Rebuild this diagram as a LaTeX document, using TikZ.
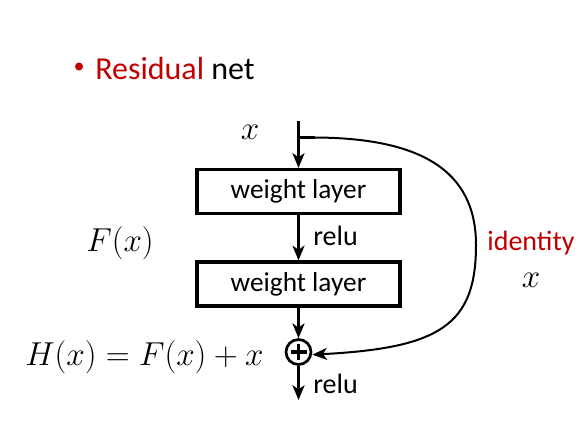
\documentclass[tikz,border=0pt]{standalone}
\usepackage{fontspec}
\setmainfont{Carlito}
\usetikzlibrary{arrows.meta}
\definecolor{resred}{RGB}{192,0,0}
\begin{document}
\begin{tikzpicture}[x=0.75pt,y=-0.75pt,
  layerbox/.style={draw,line width=2.4pt,minimum width=203*0.75pt,minimum height=44*0.75pt,inner sep=0pt,font=\fontsize{20.5}{22}\selectfont},
  flow/.style={line width=2.4pt,-{Stealth[length=11pt,width=9pt,inset=3pt]}},
  skip/.style={line width=1.5pt,-{Stealth[length=11pt,width=9pt,inset=3pt]}},
  lbl/.style={font=\fontsize{21}{24}\selectfont,inner sep=0pt,anchor=base west},
  mathlbl/.style={font=\fontsize{24.5}{28}\selectfont,inner sep=0pt}]
\useasboundingbox (0,0) rectangle (582,429);
% title
\node[circle,fill=resred,inner sep=0pt,minimum size=8*0.75pt] (bul) at (79,66.5) {};
\node[anchor=base west,inner sep=0pt,font=\fontsize{24}{28}\selectfont] (title) at (95,79) {\textcolor{resred}{Residual} net};
% boxes
\node[layerbox] (w1) at (298.5,191.5) {weight layer};
\node[layerbox] (w2) at (298.5,284) {weight layer};
\node[circle,draw,line width=2pt,minimum size=25*0.75pt,inner sep=0pt] (plus) at (298.5,352) {};
\draw[line width=2.4pt] ([xshift=-6pt]plus.center) -- ([xshift=6pt]plus.center);
\draw[line width=2.4pt] ([yshift=-6pt]plus.center) -- ([yshift=6pt]plus.center);
\coordinate (top) at (298.5,121);
\coordinate (branch) at (298.5,137.5);
\coordinate (tick) at (315,137.5);
\coordinate (outp) at (298.5,400);
\draw[flow] (top) -- (w1.north);
\draw[flow] (w1.south) -- (w2.north);
\draw[flow] (w2.south) -- (plus.north);
\draw[flow] (plus.south) -- (outp);
\draw[line width=2pt] (branch) -- (tick);
\draw[skip] (tick) .. controls (420,138) and (476,170) .. (476,245)
  .. controls (476,325) and (440,348) .. ([yshift=-2pt]plus.east);
% labels
\node[mathlbl,anchor=base] (xin) at (250,139) {$x$};
\node[lbl] (relu1) at (313,245) {relu};
\node[lbl] (relu2) at (313,393) {relu};
\node[mathlbl,anchor=base] (fx) at (120,251) {$F(x)$};
\node[mathlbl,anchor=base west] (hx) at (25,365) {$H(x)=F(x)+x$};
\node[lbl,anchor=base,text=resred] (id) at (531,250) {identity};
\node[mathlbl,anchor=base] (xid) at (531,287) {$x$};
\end{tikzpicture}
\end{document}
